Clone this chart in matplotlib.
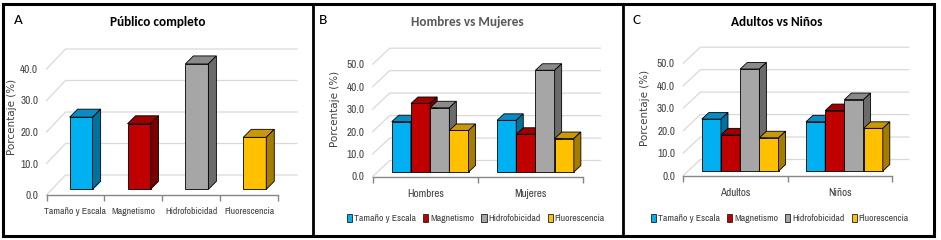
import matplotlib
matplotlib.use('Agg')
import matplotlib.pyplot as plt
from matplotlib.patches import Polygon, Rectangle, Patch
from matplotlib.lines import Line2D

W, H = 941, 240

series = ['Tamaño y Escala', 'Magnetismo', 'Hidrofobicidad', 'Fluorescencia']

# panel A: whole audience
a_values = [22.9, 20.8, 39.8, 16.5]

# panel B: men vs women
b_groups = ['Hombres', 'Mujeres']
b_tamano = [22.4, 23.0]
b_magnet = [30.5, 16.8]
b_hidro = [28.6, 45.3]
b_fluor = [18.5, 14.9]

# panel C: adults vs children
c_groups = ['Adultos', 'Niños']
c_tamano = [23.1, 21.9]
c_magnet = [16.1, 26.9]
c_hidro = [45.4, 31.8]
c_fluor = [14.8, 19.0]

front_cols = ['#00B0F0', '#C00000', '#A6A6A6', '#FFC000']
top_cols = ['#0A8CC0', '#9C0000', '#8A8A8A', '#C8980A']
side_cols = ['#00729E', '#7A0000', '#6B6B6B', '#A67C00']

plt.rcParams['font.family'] = ['Archivo Narrow', 'Carlito', 'DejaVu Sans']
plt.rcParams['axes.unicode_minus'] = False
TITLE_FONT = ['Carlito', 'DejaVu Sans']

fig = plt.figure(figsize=(W / 100, H / 100), dpi=100)
fig.patch.set_facecolor('white')


def make_axes(left, right, base, scale, ymax, ncat):
    # left/right/base in pixels from the top-left corner of the image
    ax = fig.add_axes([left / W, 1 - base / H, (right - left) / W, ymax * scale / H])
    ax.set_xlim(-0.5, ncat - 0.5)
    ax.set_ylim(0, ymax)
    ax.patch.set_visible(False)
    for s in ['left', 'top', 'right']:
        ax.spines[s].set_visible(False)
    ax.spines['bottom'].set_color('#868686')
    ax.spines['bottom'].set_linewidth(1.0)
    sx = (right - left) / ncat
    return ax, sx


def finish_axes(ax, ncat, labels, ytop, scale, sx, wall, catsize):
    wx, wy = wall[0] / sx, wall[1] / scale
    L, R = -0.5, ncat - 0.5
    for k in range(0, ytop + 1, 10):
        ax.plot([L, L + wx, R + wx], [k, k + wy, k + wy], color='#D9D9D9',
                lw=0.9, zorder=1, clip_on=False)
    ax.set_yticks(range(0, ytop + 1, 10))
    ax.set_yticklabels([f'{k:.1f}' for k in range(0, ytop + 1, 10)])
    ax.tick_params(axis='y', length=0, pad=6, labelsize=8, labelcolor='#404040')
    ax.set_xticks([i - 0.5 for i in range(ncat + 1)])
    ax.set_xticklabels([])
    ax.tick_params(axis='x', which='major', length=4, color='#868686', width=1)
    ax.set_xticks(range(ncat), minor=True)
    ax.set_xticklabels(labels, minor=True)
    ax.tick_params(axis='x', which='minor', length=0, pad=9, labelsize=catsize,
                   labelcolor='#404040')


def add_depth(ax, bars, colidx, sx, scale, depth, z):
    dx, dy = depth[0] / sx, depth[1] / scale
    for p in bars.patches:
        x0, y0 = p.get_x(), p.get_y()
        w, h = p.get_width(), p.get_height()
        top = Polygon([(x0, y0 + h), (x0 + w, y0 + h), (x0 + w + dx, y0 + h + dy),
                       (x0 + dx, y0 + h + dy)], closed=True, fc=top_cols[colidx],
                      ec='black', lw=0.6, zorder=z, clip_on=False)
        side = Polygon([(x0 + w, y0), (x0 + w + dx, y0 + dy), (x0 + w + dx, y0 + h + dy),
                        (x0 + w, y0 + h)], closed=True, fc=side_cols[colidx],
                       ec='black', lw=0.6, zorder=z, clip_on=False)
        ax.add_patch(top)
        ax.add_patch(side)
        p.set_zorder(z)
        p.set_clip_on(False)


def y_label(ax, left, right, right_edge_px):
    ax.set_ylabel('Porcentaje (%)', family='DejaVu Sans', fontsize=7.5, color='#404040')
    ax.yaxis.set_label_coords((right_edge_px - left) / (right - left), 0.55)


# ---------------- panel A ----------------
scaleA = 3.15
axA, sxA = make_axes(46.5, 278, 195, scaleA, 45, 4)
offA = (5.7 / sxA, 5.7 / scaleA)
wA = 23 / sxA
for i, v in enumerate(a_values):
    b = axA.bar([i + offA[0]], [v], width=wA, bottom=offA[1], color=front_cols[i],
                edgecolor='black', linewidth=0.6)
    add_depth(axA, b, i, sxA, scaleA, (8, 8), 3 + i * 0.1)
finish_axes(axA, 4, series, 40, scaleA, sxA, (19, 20), 7)
y_label(axA, 46.5, 278, 17)


# ---------------- panels B and C ----------------
def grouped_panel(left, right, base, groups, data, title, title_x, title_col,
                  ylab_x, legend_x):
    scale = 2.246
    ax, sx = make_axes(left, right, base, scale, 55, len(groups))
    off = (4.8 / sx, 4.5 / scale)
    w = 19.2 / sx
    for s, vals in enumerate(data):
        xs = [i + off[0] - 2 * w + (s + 0.5) * w for i in range(len(groups))]
        b = ax.bar(xs, vals, width=w, bottom=off[1], color=front_cols[s],
                   edgecolor='black', linewidth=0.6)
        add_depth(ax, b, s, sx, scale, (7, 6.5), 3 + s * 0.1)
    finish_axes(ax, len(groups), groups, 50, scale, sx, (17, 16), 8)
    y_label(ax, left, right, ylab_x)
    fig.text(title_x / W, 1 - 22.5 / H, title, ha='center', va='center',
             fontsize=9.5, fontweight='bold', color=title_col, family=TITLE_FONT)
    handles = [Patch(facecolor=front_cols[s], edgecolor='#202020', linewidth=0.6)
               for s in range(4)]
    fig.legend(handles, series, loc='center', bbox_to_anchor=(legend_x / W, 1 - 218.5 / H),
               ncol=4, frameon=False, fontsize=7, handlelength=0.55,
               handleheight=1.0, handletextpad=0.2, columnspacing=0.7,
               borderaxespad=0, borderpad=0, labelcolor='#404040')
    return ax


grouped_panel(372.7, 583.3, 176.5, b_groups, [b_tamano, b_magnet, b_hidro, b_fluor],
              'Hombres vs Mujeres', 467.5, '#595959', 340, 476)
grouped_panel(683.3, 891.7, 175.5, c_groups, [c_tamano, c_magnet, c_hidro, c_fluor],
              'Adultos vs Niños', 776.5, 'black', 650, 780)

fig.text(158 / W, 1 - 22.5 / H, 'Público completo', ha='center', va='center',
         fontsize=9.5, fontweight='bold', color='black', family=TITLE_FONT)

for letter, xpos in [('A', 18), ('B', 323), ('C', 637)]:
    fig.text(xpos / W, 1 - 20 / H, letter, ha='center', va='center', fontsize=11,
             color='black', family=TITLE_FONT)

# panel frames
fig.add_artist(Rectangle((2.5 / W, 1 - 236 / H), (934 - 2.5) / W, (236 - 3.5) / H,
                         fill=False, lw=2.2, ec='black', transform=fig.transFigure))
for xd in [313, 622.5]:
    fig.add_artist(Line2D([xd / W, xd / W], [1 - 236 / H, 1 - 3.5 / H], lw=2.0,
                          color='black', transform=fig.transFigure))

fig.savefig('out.png', dpi=100)
